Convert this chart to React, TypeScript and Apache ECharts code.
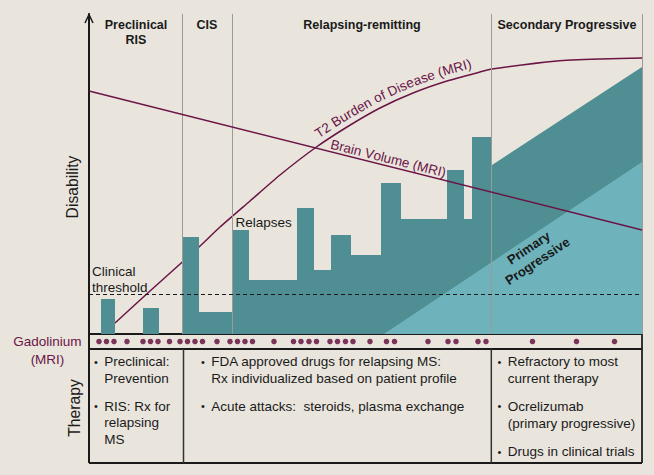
import React, { useEffect, useRef } from 'react';
import * as echarts from 'echarts';

// ---- data (x: time units from the axis, y: disability units from the base line) ----
const phaseNames = ['Preclinical\nRIS', 'CIS', 'Relapsing-remitting', 'Secondary Progressive'];
const phaseLabelX = [47, 118, 273, 478];
const phaseBounds = [93, 143, 402.7, 553];

const relapseStart = [12, 54, 93, 110, 143, 160, 208, 225, 242, 262, 292, 312, 358, 375, 383];
const relapseEnd = [26, 70, 110, 143, 160, 208, 225, 242, 262, 292, 312, 358, 375, 383, 403];
const relapseLevel = [35, 26, 97, 22, 104, 54, 126, 64, 99, 79, 151, 115, 164, 115, 197];

const progressiveX = [403, 553];
const progressiveTop = [169, 267];

const primaryX = [295, 553];
const primaryTop = [0, 172];

const t2X = [26, 61, 110, 131, 161, 191, 226, 258, 291, 324, 358, 391, 403, 468, 511, 553];
const t2Y = [11, 43, 87, 107, 133, 159, 186, 207, 226, 241, 253, 262, 265, 273, 275, 276];

const brainX = [0, 553];
const brainY = [243, 104];

const threshold = 40;

const gadolinium = [10, 17.5, 25, 38, 54, 61.5, 69, 80.5, 91, 98.5, 106, 113.5, 128, 141, 148.5, 156, 163.5,
  185, 204.5, 212, 220, 227.5, 241, 248.5, 256.5, 264, 281, 297.5, 305.5, 339, 359, 367, 389, 397, 443.5, 487.5, 525.5];

const therapyCol1 = [
  { text: 'Preclinical:', bullet: true },
  { text: 'Prevention', bullet: false },
  { text: 'RIS: Rx for', bullet: true },
  { text: 'relapsing', bullet: false },
  { text: 'MS', bullet: false },
];
const therapyCol2 = [
  { text: 'FDA approved drugs for relapsing MS:', bullet: true },
  { text: 'Rx individualized based on patient profile', bullet: false },
  { text: 'Acute attacks:  steroids, plasma exchange', bullet: true },
];
const therapyCol3 = [
  { text: 'Refractory to most', bullet: true },
  { text: 'current therapy', bullet: false },
  { text: 'Ocrelizumab', bullet: true },
  { text: '(primary progressive)', bullet: false },
  { text: 'Drugs in clinical trials', bullet: true },
];

// ---- styles ----
const BG = '#e9e5dd';
const DARK = '#4f8f93';
const LIGHT = '#6eb3bb';
const PURPLE = '#6b1446';
const DOT = '#5e0838';
const INK = '#1a1a1a';
const FONT = '"Liberation Sans", Arial, Helvetica, sans-serif';

function buildRelapse(): number[][] {
  const pts: number[][] = [[relapseStart[0], 0]];
  let prevEnd = relapseStart[0];
  for (let i = 0; i < relapseStart.length; i++) {
    if (relapseStart[i] !== prevEnd) {
      pts.push([prevEnd, 0]);
      pts.push([relapseStart[i], 0]);
    }
    pts.push([relapseStart[i], relapseLevel[i]]);
    pts.push([relapseEnd[i], relapseLevel[i]]);
    prevEnd = relapseEnd[i];
  }
  for (let i = 0; i < progressiveX.length; i++) pts.push([progressiveX[i], progressiveTop[i]]);
  pts.push([progressiveX[progressiveX.length - 1], 0]);
  return pts;
}

function textAlong(ctx: CanvasRenderingContext2D, pts: number[][], startX: number, text: string,
  offset: number, fontSize: number, fill: string) {
  const cum = [0];
  for (let i = 1; i < pts.length; i++) {
    cum.push(cum[i - 1] + Math.hypot(pts[i][0] - pts[i - 1][0], pts[i][1] - pts[i - 1][1]));
  }
  const total = cum[cum.length - 1];
  const at = (s0: number) => {
    const s = Math.max(0, Math.min(total, s0));
    let i = 1;
    while (i < cum.length - 1 && cum[i] < s) i++;
    const t = (s - cum[i - 1]) / ((cum[i] - cum[i - 1]) || 1);
    return [pts[i - 1][0] + t * (pts[i][0] - pts[i - 1][0]), pts[i - 1][1] + t * (pts[i][1] - pts[i - 1][1])];
  };
  let s = 0;
  for (let i = 1; i < pts.length; i++) {
    if (pts[i][0] >= startX) {
      const t = (startX - pts[i - 1][0]) / ((pts[i][0] - pts[i - 1][0]) || 1);
      s = cum[i - 1] + t * (cum[i] - cum[i - 1]);
      break;
    }
  }
  ctx.font = `${fontSize}px ${FONT}`;
  const els: any[] = [];
  for (const ch of text) {
    const w = ctx.measureText(ch).width;
    const sc = s + w / 2;
    if (ch !== ' ') {
      const p = at(sc);
      const a = at(sc - 9);
      const b = at(sc + 9);
      const dx = b[0] - a[0];
      const dy = b[1] - a[1];
      const len = Math.hypot(dx, dy) || 1;
      const tx = dx / len;
      const ty = dy / len;
      const nx = ty;
      const ny = -tx;
      els.push({
        type: 'text', silent: true, z: 50,
        x: p[0] + nx * offset, y: p[1] + ny * offset,
        rotation: Math.atan2(-dy, dx),
        style: { text: ch, fontSize, fontFamily: FONT, fill, align: 'center', verticalAlign: 'bottom' },
      });
    }
    s += w;
  }
  return els;
}

export default function App() {
  const ref = useRef<HTMLDivElement>(null);

  useEffect(() => {
    if (!ref.current) return;
    const chart = echarts.init(ref.current, null, { renderer: 'svg' });

    const option: any = {
      animation: false,
      backgroundColor: BG,
      grid: [
        { left: 89, top: 14, width: 553, height: 320 },
        { left: 89, top: 335, width: 553, height: 13 },
      ],
      xAxis: [
        {
          type: 'value', gridIndex: 0, min: 0, max: 553,
          axisLine: { show: true, lineStyle: { color: INK, width: 2 } },
          axisTick: { show: false }, axisLabel: { show: false }, splitLine: { show: false },
        },
        { type: 'value', gridIndex: 1, min: 0, max: 553, show: false },
      ],
      yAxis: [
        {
          type: 'value', gridIndex: 0, min: 0, max: 320,
          axisLine: { show: true, onZero: false, lineStyle: { color: INK, width: 2 } },
          axisTick: { show: false }, axisLabel: { show: false }, splitLine: { show: false },
        },
        { type: 'value', gridIndex: 1, min: 0, max: 1, show: false },
      ],
      series: [
        {
          name: 'T2 Burden of Disease (MRI)', type: 'line', z: 2, smooth: 0.2, symbol: 'none',
          data: t2X.map((x, i) => [x, t2Y[i]]),
          lineStyle: { color: PURPLE, width: 1.5 },
        },
        {
          name: 'Relapses', type: 'line', z: 3, symbol: 'none',
          data: buildRelapse(),
          lineStyle: { width: 0 },
          areaStyle: { color: DARK, opacity: 1 },
        },
        {
          name: 'Primary Progressive', type: 'line', z: 4, symbol: 'none',
          data: primaryX.map((x, i) => [x, primaryTop[i]]),
          lineStyle: { width: 0 },
          areaStyle: { color: LIGHT, opacity: 1 },
        },
        {
          name: 'markers', type: 'line', z: 5, symbol: 'none',
          data: [[0, 0]], lineStyle: { width: 0 },
          markLine: {
            silent: true, symbol: ['none', 'none'], label: { show: false },
            data: [
              ...phaseBounds.map((b) => ({ xAxis: b, lineStyle: { color: '#9a9a9a', width: 1, type: 'solid' } })),
              { yAxis: threshold, lineStyle: { color: INK, width: 1.2, type: [4, 3] } },
            ],
          },
        },
        {
          name: 'Brain Volume (MRI)', type: 'line', z: 6, symbol: 'none',
          data: brainX.map((x, i) => [x, brainY[i]]),
          lineStyle: { color: PURPLE, width: 1.5 },
        },
        {
          name: 'Gadolinium (MRI)', type: 'scatter', xAxisIndex: 1, yAxisIndex: 1,
          symbolSize: 5.5, itemStyle: { color: DOT },
          data: gadolinium.map((x) => [x, 0.5]),
        },
      ],
    };
    chart.setOption(option);

    const px = (x: number, y: number) => chart.convertToPixel({ gridIndex: 0 }, [x, y]) as number[];
    const ctx = document.createElement('canvas').getContext('2d') as CanvasRenderingContext2D;

    const els: any[] = [];
    const line = (x1: number, y1: number, x2: number, y2: number, w: number, c = INK) =>
      els.push({ type: 'line', silent: true, z: 40, shape: { x1, y1, x2, y2 }, style: { stroke: c, lineWidth: w } });
    const txt = (text: string, x: number, y: number, opts: any = {}) =>
      els.push({
        type: 'text', silent: true, z: 50, x, y, rotation: opts.rotation || 0,
        style: {
          text, fontSize: opts.fontSize || 13.5, fontFamily: FONT, fontWeight: opts.bold ? 'bold' : 'normal',
          fill: opts.fill || INK, align: opts.align || 'left', verticalAlign: 'middle',
          lineHeight: opts.lineHeight,
        },
      });

    // axis arrow
    els.push({
      type: 'polyline', silent: true, z: 40,
      shape: { points: [[85, 23], [89, 14.5], [93, 23]] },
      style: { stroke: INK, lineWidth: 1.5, fill: 'none' },
    });

    // table (gadolinium row + therapy)
    const L = 89, R = 642, T1 = 334, T2 = 349, B = 463;
    line(L, T1, L, B, 2);
    line(R, T1, R, B, 2, '#333');
    line(L, T2, R, T2, 2);
    line(L, B, R, B, 2);
    line(183.5, T2, 183.5, B, 1.5, '#333');
    line(491.3, T2, 491.3, B, 1.5, '#333');

    // phase headers
    phaseNames.forEach((name, i) => {
      const cx = px(phaseLabelX[i], 0)[0];
      name.split('\n').forEach((ln, j) => txt(ln, cx, 25.3 + j * 14.7, { bold: true, fontSize: 12.5, align: 'center' }));
    });

    // axis titles
    txt('Disability', 72, 187, { fontSize: 15.7, align: 'center', rotation: Math.PI / 2 });
    txt('Therapy', 74, 408, { fontSize: 15.7, align: 'center', rotation: Math.PI / 2 });
    txt('Gadolinium', 47.3, 341, { fontSize: 13.5, align: 'center', fill: PURPLE });
    txt('(MRI)', 47.5, 359.3, { fontSize: 13.5, align: 'center', fill: PURPLE });

    // annotations
    txt('Clinical', 92, 271, {});
    txt('threshold', 92, 287, {});
    txt('Relapses', 235.5, 222, {});

    // primary progressive
    {
      const a = px(primaryX[0], primaryTop[0]);
      const b = px(primaryX[1], primaryTop[1]);
      const ang = Math.atan2(a[1] - b[1], b[0] - a[0]);
      txt('Primary\nProgressive', 533, 254.5, { bold: true, fontSize: 13, align: 'center', rotation: ang, lineHeight: 16 });
    }

    // curved labels
    const t2Px = t2X.map((x, i) => px(x, t2Y[i]));
    els.push(...textAlong(ctx, t2Px, 322, 'T2 Burden of Disease (MRI)', 3.5, 13.5, PURPLE));
    const brPx = brainX.map((x, i) => px(x, brainY[i]));
    els.push(...textAlong(ctx, brPx, 329, 'Brain Volume (MRI)', 0.5, 13.5, PURPLE));

    // therapy text
    const cols: [typeof therapyCol1, number][] = [[therapyCol1, 96], [therapyCol2, 203], [therapyCol3, 499.5]];
    const rowY: number[][] = [
      [361.7, 378, 406.3, 422.8, 439.3],
      [361.7, 378, 406.3],
      [361.7, 378, 406.3, 423, 451.7],
    ];
    cols.forEach(([col, bx], ci) => {
      col.forEach((item, ri) => {
        const y = rowY[ci][ri];
        if (item.bullet) txt('•', bx, y, { align: 'center', fontSize: 11 });
        txt(item.text, bx + 8.3, y, {});
      });
    });

    chart.setOption({ graphic: { elements: els } });

    return () => chart.dispose();
  }, []);

  return (
    <div
      ref={ref}
      style={{ position: 'fixed', left: 0, top: 0, width: 654, height: 475, background: BG }}
    />
  );
}
